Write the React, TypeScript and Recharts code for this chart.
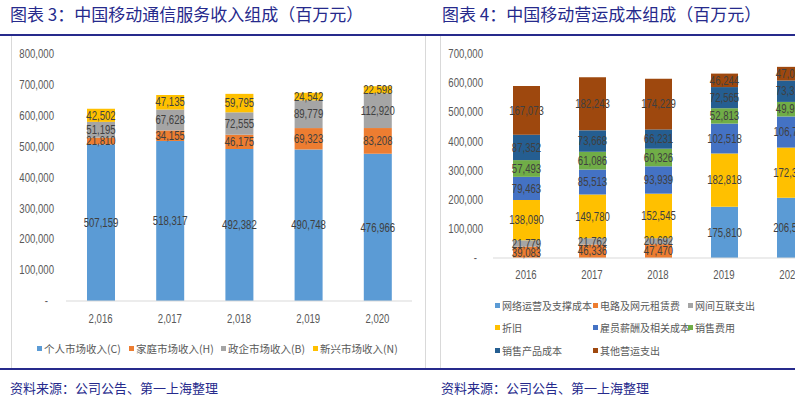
import React from 'react';
import { BarChart, Bar, XAxis, YAxis, Legend, LabelList } from 'recharts';

// 图表 3：通信服务收入组成（百万元）
const years = [2016, 2017, 2018, 2019, 2020];
const personal = [507159, 518317, 492382, 490748, 476966];
const household = [21810, 34155, 46175, 69323, 83208];
const enterprise = [51195, 67628, 72555, 89779, 112920];
const emerging = [42502, 47135, 59795, 24542, 22598];

// 图表 4：营运成本组成（百万元）
const networkOps = [null, null, null, 175810, 206536];
const leasing = [39083, 46336, 47470, null, null];
const interconnect = [21779, 21762, 20692, null, null];
const depreciation = [138090, 149780, 152545, 182818, 172370];
const employee = [79463, 85513, 93939, 102518, 106711];
const selling = [57493, 61086, 60326, 52813, 49951];
const productCost = [87352, 73668, 66231, 72565, 73318];
const otherOps = [167073, 182243, 174229, 46244, 47012];

const revenueTicks = [0, 100000, 200000, 300000, 400000, 500000, 600000, 700000, 800000];
const costTicks = [0, 100000, 200000, 300000, 400000, 500000, 600000, 700000];

const revenueData = years.map((y, i) => ({
  year: y,
  personal: personal[i],
  household: household[i],
  enterprise: enterprise[i],
  emerging: emerging[i],
}));

const costData = years.map((y, i) => ({
  year: y,
  networkOps: networkOps[i],
  leasing: leasing[i],
  interconnect: interconnect[i],
  depreciation: depreciation[i],
  employee: employee[i],
  selling: selling[i],
  productCost: productCost[i],
  otherOps: otherOps[i],
}));

const revenueSeries = [
  { key: 'personal', name: '个人市场收入(C)', color: '#5b9bd5' },
  { key: 'household', name: '家庭市场收入(H)', color: '#ed7d31' },
  { key: 'enterprise', name: '政企市场收入(B)', color: '#a5a5a5' },
  { key: 'emerging', name: '新兴市场收入(N)', color: '#ffc000' },
];

const costSeries = [
  { key: 'networkOps', name: '网络运营及支撑成本', color: '#5b9bd5' },
  { key: 'leasing', name: '电路及网元租赁费', color: '#ed7d31' },
  { key: 'interconnect', name: '网间互联支出', color: '#a5a5a5' },
  { key: 'depreciation', name: '折旧', color: '#ffc000' },
  { key: 'employee', name: '雇员薪酬及相关成本', color: '#4472c4' },
  { key: 'selling', name: '销售费用', color: '#70ad47' },
  { key: 'productCost', name: '销售产品成本', color: '#255e91' },
  { key: 'otherOps', name: '其他营运支出', color: '#9e480e' },
];

const NUM_FONT = '"Liberation Sans", Arial, sans-serif';
const CJK_FONT = '"Noto Sans CJK SC", sans-serif';
const NAVY = '#262a8c';
const GRAY_TEXT = '#595959';
const SQUEEZE = 0.8; // narrow look of the Excel number font

const fmt = (v: any) => (v == null ? '' : Number(v).toLocaleString('en-US'));

// narrow text helper
const NarrowText = ({ x, y, anchor, children, fill, dy }: any) => (
  <text
    transform={`translate(${x},${y}) scale(${SQUEEZE},1)`}
    textAnchor={anchor}
    dy={dy}
    fill={fill}
    fontSize={12}
    fontFamily={NUM_FONT}
  >
    {children}
  </text>
);

const YTick = (props: any) => {
  const v = props.payload.value;
  return (
    <NarrowText x={props.x - (v === 0 ? 6 : 0)} y={props.y} anchor="end" dy="0.35em" fill={GRAY_TEXT}>
      {v === 0 ? '-' : v.toLocaleString('en-US')}
    </NarrowText>
  );
};

const makeXTick = (withComma: boolean) => (props: any) => (
  <NarrowText x={props.x} y={props.y} anchor="middle" dy="0.71em" fill={GRAY_TEXT}>
    {withComma ? Number(props.payload.value).toLocaleString('en-US') : props.payload.value}
  </NarrowText>
);

const BarLabel = (props: any) => {
  const { x, y, width, height, value } = props;
  if (value == null) return null;
  return (
    <NarrowText x={x + width / 2} y={y + height / 2} anchor="middle" dy="0.35em" fill="#404040">
      {fmt(value)}
    </NarrowText>
  );
};

const makeLegend = (items: any[], colWidths: number[], rowHeight: number, fontSize: number) => () => (
  <div style={{ display: 'flex', flexWrap: 'wrap', width: colWidths.reduce((a, b) => a + b, 0) }}>
    {items.map((it, i) => (
      <div
        key={it.key}
        style={{
          width: colWidths[i % colWidths.length],
          height: rowHeight,
          display: 'flex',
          alignItems: 'center',
          fontFamily: CJK_FONT,
          fontSize,
          color: GRAY_TEXT,
          whiteSpace: 'nowrap',
        }}
      >
        <span style={{ width: 5, height: 5, background: it.color, marginRight: 2, display: 'inline-block', flex: 'none' }} />
        {it.name}
      </div>
    ))}
  </div>
);

const RevenueChart = () => (
  <BarChart
    width={414}
    height={330}
    data={revenueData}
    margin={{ top: 17, right: 13, left: 0, bottom: 36 }}
    barSize={28}
  >
    <XAxis
      dataKey="year"
      tick={makeXTick(true)}
      tickLine={false}
      tickSize={0}
      tickMargin={13}
      axisLine={{ stroke: '#d9d9d9' }}
      height={30}
    />
    <YAxis
      domain={[0, 800000]}
      ticks={revenueTicks}
      tick={YTick}
      tickLine={false}
      axisLine={false}
      tickSize={0}
      tickMargin={12}
      width={55}
    />
    <Legend
      layout="horizontal"
      verticalAlign="middle"
      align="center"
      wrapperStyle={{ top: 303, left: 26 }}
      content={makeLegend(revenueSeries, [92, 92, 92, 92], 16, 10.5)}
    />
    {revenueSeries.map((s) => (
      <Bar key={s.key} dataKey={s.key} name={s.name} stackId="a" fill={s.color} isAnimationActive={false}>
        <LabelList dataKey={s.key} content={BarLabel} />
      </Bar>
    ))}
  </BarChart>
);

const CostChart = () => (
  <BarChart
    width={400}
    height={330}
    data={costData}
    margin={{ top: 17, right: 17, left: 0, bottom: 79 }}
    barSize={27}
  >
    <XAxis
      dataKey="year"
      tick={makeXTick(false)}
      tickLine={false}
      tickSize={0}
      tickMargin={12}
      axisLine={{ stroke: '#d9d9d9' }}
      height={30}
    />
    <YAxis
      domain={[0, 700000]}
      ticks={costTicks}
      tick={YTick}
      tickLine={false}
      axisLine={false}
      tickSize={0}
      tickMargin={10}
      width={53}
    />
    <Legend
      layout="horizontal"
      verticalAlign="middle"
      align="center"
      wrapperStyle={{ top: 257, left: 55 }}
      content={makeLegend(costSeries, [98, 95, 96], 22.5, 10)}
    />
    {costSeries.map((s) => (
      <Bar key={s.key} dataKey={s.key} name={s.name} stackId="c" fill={s.color} isAnimationActive={false}>
        <LabelList dataKey={s.key} content={BarLabel} />
      </Bar>
    ))}
  </BarChart>
);

const abs = (style: React.CSSProperties): React.CSSProperties => ({ position: 'absolute', ...style });

export default function App() {
  return (
    <div
      style={{
        position: 'fixed',
        left: 0,
        top: 0,
        width: 795,
        height: 397,
        overflow: 'hidden',
        background: '#fff',
      }}
    >
      <div style={abs({ left: 10, top: 3, fontSize: 17, fontFamily: CJK_FONT, color: NAVY, whiteSpace: 'nowrap', lineHeight: '22px' })}>
        图表 3：中国移动通信服务收入组成（百万元）
      </div>
      <div style={abs({ left: 442, top: 3, fontSize: 17, fontFamily: CJK_FONT, color: NAVY, whiteSpace: 'nowrap', lineHeight: '22px' })}>
        图表 4：中国移动营运成本组成（百万元）
      </div>
      <div style={abs({ left: 0, top: 34, width: 795, height: 2, background: NAVY })} />

      <div style={abs({ left: 11, top: 36, width: 413, height: 332, borderLeft: '1px solid #d9d9d9', borderRight: '1px solid #d9d9d9' })} />
      <div style={abs({ left: 440, top: 36, width: 400, height: 332, borderLeft: '1px solid #d9d9d9' })} />

      <div style={abs({ left: 11, top: 37 })}>
        <RevenueChart />
      </div>
      <div style={abs({ left: 440, top: 37 })}>
        <CostChart />
      </div>

      <div style={abs({ left: 0, top: 368, width: 795, height: 2, background: NAVY })} />
      <div style={abs({ left: 10, top: 379, fontSize: 13, fontFamily: CJK_FONT, color: NAVY, whiteSpace: 'nowrap', lineHeight: '18px' })}>
        资料来源：公司公告、第一上海整理
      </div>
      <div style={abs({ left: 441, top: 379, fontSize: 13, fontFamily: CJK_FONT, color: NAVY, whiteSpace: 'nowrap', lineHeight: '18px' })}>
        资料来源：公司公告、第一上海整理
      </div>
    </div>
  );
}
